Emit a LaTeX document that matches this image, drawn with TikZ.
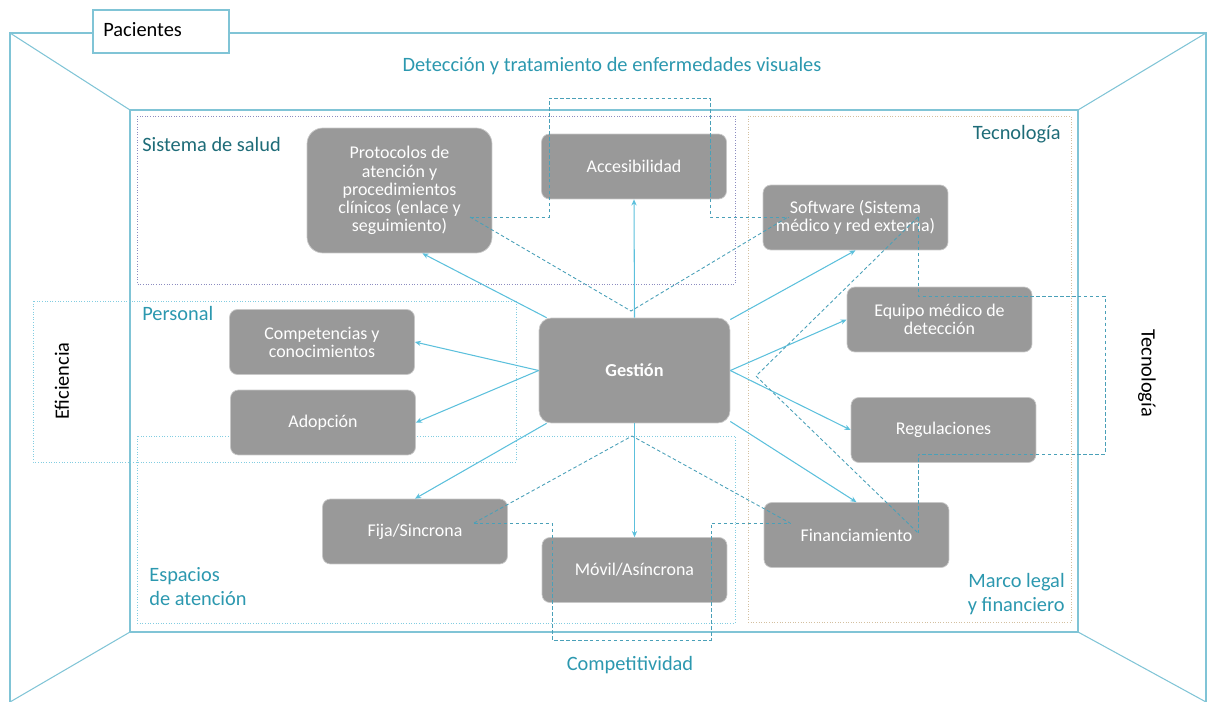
\documentclass[tikz,border=0pt]{standalone}
\usepackage{fontspec}
\setmainfont{Carlito}
\usetikzlibrary{arrows.meta,calc}

\definecolor{roomline}{RGB}{128,196,214}
\definecolor{slateline}{RGB}{140,140,192}
\definecolor{tanline}{RGB}{212,192,160}
\definecolor{cyanframe}{RGB}{130,205,225}
\definecolor{nodegray}{RGB}{153,153,153}
\definecolor{nodeedge}{RGB}{200,200,200}
\definecolor{linkcyan}{RGB}{92,192,220}
\definecolor{dashteal}{RGB}{74,160,184}
\definecolor{darkteal}{RGB}{30,108,120}
\definecolor{teal}{RGB}{44,152,175}

\tikzset{
  room/.style={draw=roomline, line width=0.6pt},
  innerroom/.style={draw=roomline, line width=1.0pt},
  areaslate/.style={draw=slateline, line width=0.5pt, densely dotted},
  areatan/.style={draw=tanline, line width=0.5pt, densely dotted},
  areacyan/.style={draw=cyanframe, line width=0.5pt, densely dotted},
  box/.style={rectangle, rounded corners=4.5pt, fill=nodegray, draw=nodeedge,
    line width=0.4pt, text=white, align=center, inner sep=0pt,
    font=\fontsize{10.2}{10.3}\selectfont, minimum width=3.7cm, minimum height=1.3cm},
  link/.style={draw=linkcyan, line width=0.6pt, -{Stealth[length=3.5pt,width=3pt]}},
  dlink/.style={draw=dashteal, line width=0.5pt, dash pattern=on 2pt off 1.4pt},
  lbl/.style={font=\fontsize{11.6}{13.6}\selectfont, inner sep=0pt},
}

\begin{document}
\begin{tikzpicture}[x=0.02cm,y=-0.02cm]
\useasboundingbox (0,0) rectangle (1209,702);

% perspective room
\draw[room] (10,702) -- (10,33) -- (1206,33) -- (1206,702);
\draw[room] (10,33) -- (130,110);
\draw[room] (1206,33) -- (1078,110);
\draw[room] (10,702) -- (130,632);
\draw[room] (1206,702) -- (1078,632);
\draw[innerroom] (130,110) rectangle (1078,632);

% areas
\draw[areaslate] (137,116) rectangle (735,284);
\draw[areatan] (748,116) rectangle (1071,622);
\draw[areacyan] (33,301) rectangle (516,462);
\draw[areacyan] (137,436) rectangle (735,623);

% patients tab
\node[draw=roomline, fill=white, line width=0.6pt, minimum width=2.72cm,
  minimum height=0.86cm, inner sep=0pt] (pac) at (161,31.5) {};
\node[lbl, anchor=west, text=black] (pactxt) at (103,30) {Pacientes};

% nodes
\node[box, rounded corners=9pt, minimum height=2.5cm] (p) at (399.5,190.5)
  {Protocolos de\\atención y\\procedimientos\\clínicos (enlace y\\seguimiento)};
\node[box] (a) at (634,166.5) {Accesibilidad};
\node[box] (s) at (855.5,217.5) {Software (Sistema\\médico y red externa)};
\node[box] (e) at (939.5,319.5) {Equipo médico de\\detección};
\node[box] (r) at (943.5,430) {Regulaciones};
\node[box] (f) at (856.5,535) {Financiamiento};
\node[box, rounded corners=7pt, minimum width=3.82cm, minimum height=2.1cm,
  font=\fontsize{10.4}{10.4}\selectfont\bfseries] (g) at (634.5,370.5) {Gestión};
\node[box] (c) at (322,342) {Competencias y\\conocimientos};
\node[box] (d) at (323,422.5) {Adopción};
\node[box] (fs) at (415,531.5) {Fija/Sincrona};
\node[box] (m) at (634.5,570) {Móvil/Asíncrona};

% links from management
\draw[link] (g.149) -- (p.-70);
\draw[link] (g.north) -- (a.south);
\draw[link] (g.28) -- (s.south);
\draw[link] (g.east) -- (e.west);
\draw[link] (g.east) -- (r.west);
\draw[link] (g.-28) -- (f.north);
\draw[link] (g.south) -- (m.north);
\draw[link] (g.211) -- (fs.north);
\draw[link] (g.west) -- (c.east);
\draw[link] (g.west) -- (d.east);

% dashed relations
\coordinate (pin) at (470,217);
\coordinate (sin) at (788,217);
\coordinate (sin2) at (918,217);
\coordinate (fsin) at (474,523);
\coordinate (fin) at (790,523);
\coordinate (fin2) at (918,533);
\coordinate (vtop) at (631,311);
\coordinate (vbot) at (632,436);
\coordinate (vright) at (756,376);

\draw[dlink] (pin) -- (549,217) -- (549,98) -- (710,98) -- (710,217) -- (sin);
\draw[dlink] (pin) -- (vtop) -- (sin);
\draw[dlink] (fsin) -- (552,523) -- (552,640) -- (711,640) -- (711,523) -- (fin);
\draw[dlink] (fsin) -- (vbot) -- (fin);
\draw[dlink] (sin2) -- (918,296) -- (1105,296) -- (1105,454) -- (918,454) -- (fin2);
\draw[dlink] (sin2) -- (vright) -- (fin2);

% labels
\node[lbl, text=teal] (title) at (612,66) {Detección y tratamiento de enfermedades visuales};
\node[lbl, text=darkteal, anchor=west] (lsal) at (142,145) {Sistema de salud};
\node[lbl, text=darkteal, anchor=east] (ltec) at (1061,134) {Tecnología};
\node[lbl, text=teal, anchor=west] (lper) at (142,313) {Personal};
\node[lbl, text=teal, anchor=west, align=left] (lesp) at (149,587) {Espacios\\de atención};
\node[lbl, text=teal, anchor=east, align=right] (lmar) at (1065,594) {Marco legal\\y financiero};
\node[lbl, text=teal] (lcom) at (630,665) {Competitividad};
\node[lbl, text=black, rotate=90] (lefi) at (62,381) {Eficiencia};
\node[lbl, text=black, rotate=-90] (ltec2) at (1147,373) {Tecnología};
\end{tikzpicture}
\end{document}
